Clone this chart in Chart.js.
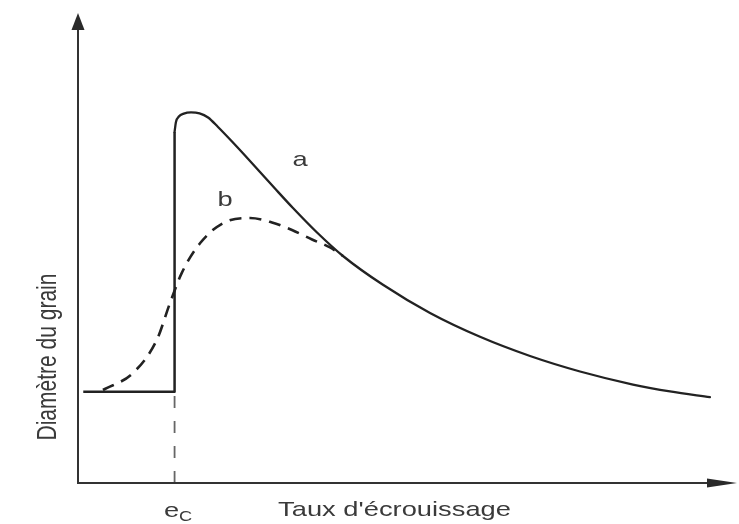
<!DOCTYPE html>
<html>
<head>
<meta charset="utf-8">
<script src="https://cdn.jsdelivr.net/npm/chart.js@4"></script>
<style>
html,body{margin:0;padding:0;background:#fff;}
#wrap{width:739px;height:524px;position:relative;}
</style>
</head>
<body>
<div id="wrap"><canvas id="c" width="739" height="524"></canvas></div>
<script>
// Data (x: strain rate 0..100, y: grain diameter 0..100, arbitrary units)
const ecX = 14.7;                       // critical strain e_c
const stepX = [0.8, 14.7, 14.7];        // curve a: plateau then jump
const stepY = [19.6, 19.6, 75.5];
const curveAX = [14.7, 14.9, 15.35, 16.1, 17.2, 18.5, 19.8, 21.31, 23.44, 25.42, 27.7, 29.98, 32.72, 36.38, 40.33, 46.42, 53.58, 61.19, 68.8, 76.41, 84.47, 90.11, 96.19];
const curveAY = [75.5, 77.6, 78.8, 79.45, 79.72, 79.5, 78.6, 76.56, 73.44, 70.43, 66.88, 63.33, 59.14, 53.87, 48.82, 42.62, 36.56, 31.44, 27.31, 23.98, 21.18, 19.68, 18.47];
const curveBX = [3.8, 8.4, 12.0, 14.0, 15.8, 18.6, 22.1, 26.18, 29.53, 32.57, 35.62, 38.36, 40.33];
const curveBY = [20.0, 23.7, 30.8, 38.7, 45.2, 51.6, 55.9, 56.99, 56.02, 54.41, 52.37, 50.65, 48.82];
const ecLineY = [0, 19.6];

const xTitle = "Taux d'écrouissage";
const yTitle = "Diamètre du grain";
const labelA = "a", labelB = "b";
const ecMain = "e", ecSub = "C";

const pts = (xs, ys) => xs.map((x, i) => ({x, y: ys[i]}));
const ink = '#222';
const FONT = "'Liberation Sans', Arial, Helvetica, sans-serif";
const SX = 1.3; // horizontal stretch of the scanned figure

const decor = {
  id: 'decor',
  afterDatasetsDraw(chart) {
    const {ctx, chartArea: ca, scales: {x, y}} = chart;
    ctx.save();
    // axes
    ctx.strokeStyle = '#333';
    ctx.lineWidth = 2;
    ctx.beginPath();
    ctx.moveTo(ca.left, ca.top + 10);
    ctx.lineTo(ca.left, ca.bottom);
    ctx.lineTo(ca.right - 25, ca.bottom);
    ctx.stroke();
    ctx.fillStyle = '#2a2a2a';
    // y arrow
    ctx.beginPath();
    ctx.moveTo(ca.left, ca.top - 5);
    ctx.lineTo(ca.left - 6.5, ca.top + 12);
    ctx.lineTo(ca.left + 6.5, ca.top + 12);
    ctx.closePath();
    ctx.fill();
    // x arrow
    ctx.beginPath();
    ctx.moveTo(ca.right + 2, ca.bottom);
    ctx.lineTo(ca.right - 28, ca.bottom - 4.5);
    ctx.lineTo(ca.right - 28, ca.bottom + 4.5);
    ctx.closePath();
    ctx.fill();

    // texts
    ctx.fillStyle = '#3a3a3a';
    ctx.textAlign = 'center';
    ctx.textBaseline = 'middle';
    const txt = (s, px, py, size, rot) => {
      ctx.save();
      ctx.translate(px, py);
      ctx.scale(SX, 1);
      if (rot) ctx.rotate(rot);
      ctx.font = size + 'px ' + FONT;
      ctx.fillText(s, 0, 0);
      ctx.restore();
    };
    txt(xTitle, (ca.left + ca.right) / 2 - 12, ca.bottom + 27, 21);
    txt(yTitle, ca.left - 30, ca.bottom - 126, 21, -Math.PI / 2);
    txt(labelA, x.getPixelForValue(33.8), y.getPixelForValue(69.5), 21);
    txt(labelB, x.getPixelForValue(22.4), y.getPixelForValue(60.8), 21);
    const ex = x.getPixelForValue(ecX);
    txt(ecMain, ex - 3, ca.bottom + 28, 21);
    txt(ecSub, ex + 11, ca.bottom + 34, 14);
    ctx.restore();
  }
};

new Chart(document.getElementById('c'), {
  type: 'scatter',
  data: {
    datasets: [
      { data: pts([ecX, ecX], ecLineY), showLine: true, borderColor: '#666', borderWidth: 1.8, borderDash: [12, 13], pointRadius: 0, tension: 0 },
      { data: pts(stepX, stepY), showLine: true, borderColor: ink, borderWidth: 2.5, pointRadius: 0, tension: 0, borderJoinStyle: 'round' },
      { data: pts(curveAX, curveAY), showLine: true, borderColor: ink, borderWidth: 2.3, pointRadius: 0, cubicInterpolationMode: 'monotone', borderCapStyle: 'round' },
      { data: pts(curveBX, curveBY), showLine: true, borderColor: ink, borderWidth: 2.6, borderDash: [12, 8], pointRadius: 0, cubicInterpolationMode: 'monotone' }
    ]
  },
  options: {
    responsive: false,
    animation: false,
    events: [],
    layout: { padding: { left: 78, top: 18, right: 4, bottom: 41 } },
    plugins: { legend: { display: false }, tooltip: { enabled: false } },
    scales: {
      x: { type: 'linear', min: 0, max: 100, display: false },
      y: { type: 'linear', min: 0, max: 100, display: false }
    }
  },
  plugins: [decor]
});
</script>
</body>
</html>
